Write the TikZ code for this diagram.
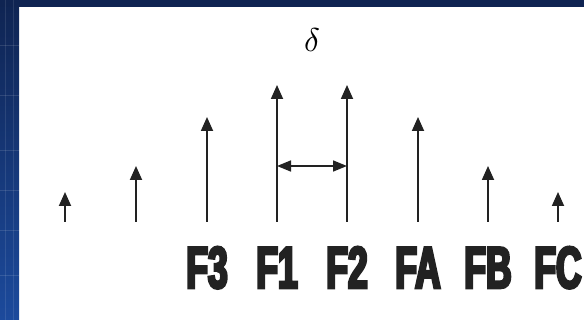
\documentclass[tikz,border=0pt]{standalone}
\usepackage{fontspec}
\usetikzlibrary{arrows.meta}
\newfontfamily\labfont{Liberation Sans}[FakeStretch=0.6,BoldFeatures={FakeBold=4.5}]
\definecolor{bluedark}{HTML}{0F2452}
\definecolor{bluemid}{HTML}{1C4A9C}
\definecolor{ink}{HTML}{222222}
\begin{document}
\begin{tikzpicture}[x=1pt,y=-1pt,
  spike/.style={draw=ink,line width=1.8pt,-{Triangle[length=14pt,width=12pt]}},
  gap/.style={draw=ink,line width=1.6pt,{Triangle[length=14pt,width=11pt]}-{Triangle[length=14pt,width=11pt]}},
  lab/.style={text=ink,font=\labfont\bfseries\fontsize{59}{59}\selectfont,inner sep=0pt,anchor=base}]
\useasboundingbox (0,0) rectangle (584,320);
% slide background
\fill[white] (0,0) rectangle (584,320);
\shade[top color=bluedark,bottom color=bluemid] (0,0) rectangle (19,320);
\fill[bluedark] (0,0) rectangle (584,7);
\foreach \yy in {45,95,150,190,230,275}
  \draw[white,opacity=0.12,line width=0.6pt] (0,\yy) -- (19,\yy);
\foreach \xx in {5,13}
  \draw[white,opacity=0.10,line width=0.6pt] (\xx,0) -- (\xx,320);
% coordinates
\foreach \n/\xx/\tt in {a/65/192, b/136/166, c/207/117, d/277/85, e/347/85, f/418/117, g/488/166, h/558/192}{
  \coordinate (\n0) at (\xx,222);
  \coordinate (\n1) at (\xx,\tt);
}
\foreach \n in {a,b,c,d,e,f,g,h}
  \draw[spike] (\n0) -- (\n1);
\coordinate (L) at (277,166);
\coordinate (R) at (347,166);
\draw[gap] (L) -- (R);
\node[scale=3.3] (delta) at (312,40) {$\delta$};
\node[lab] (F3) at (207,288) {F3};
\node[lab] (F1) at (277,288) {F1};
\node[lab] (F2) at (347,288) {F2};
\node[lab] (FA) at (418,288) {FA};
\node[lab] (FB) at (488,288) {FB};
\node[lab] (FC) at (558,288) {FC};
\end{tikzpicture}
\end{document}
